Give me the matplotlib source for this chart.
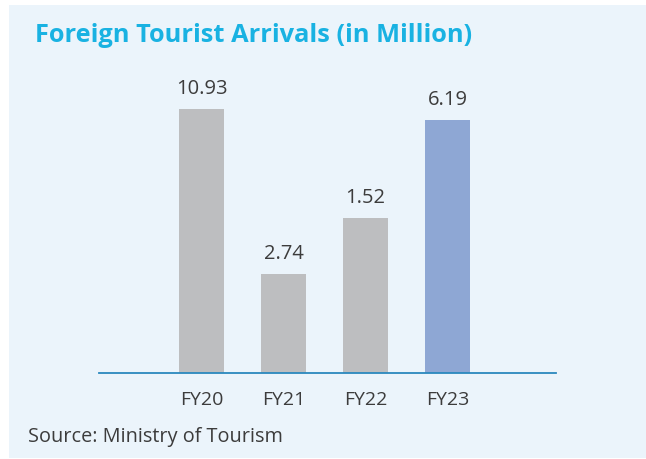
import matplotlib
matplotlib.use("Agg")
import matplotlib.pyplot as plt
from matplotlib.patches import Rectangle

categories = ["FY20", "FY21", "FY22", "FY23"]
value_labels = ["10.93", "2.74", "1.52", "6.19"]
# drawn bar heights (bars are not to scale in the reference)
bar_heights = [10.93, 4.10, 6.42, 10.47]
bar_colors = ["#BDBEC0", "#BDBEC0", "#BDBEC0", "#8EA7D4"]

title = "Foreign Tourist Arrivals (in Million)"
source = "Source: Ministry of Tourism"

W, H = 646, 459
fig = plt.figure(figsize=(W / 100, H / 100), dpi=100)
fig.patch.set_facecolor("white")
bg = Rectangle((9 / W, 1 - 458 / H), 1 - 9 / W, (458 - 5) / H,
               transform=fig.transFigure, facecolor="#EBF4FB", edgecolor="none", zorder=-10)
fig.patches.append(bg)

ax_left, ax_right = 99 / W, 556 / W
ax_bottom = 1 - 373 / H
ax_top = 1 - 60 / H
ax = fig.add_axes([ax_left, ax_bottom, ax_right - ax_left, ax_top - ax_bottom])
ax.set_facecolor("none")
ax.set_zorder(1)

x = list(range(len(categories)))
bars = ax.bar(x, bar_heights, width=0.55, color=bar_colors, zorder=2)
ax.set_xlim(-1.25, 4.32)
ax.set_ylim(0, 12.96)

for b, lab in zip(bars, value_labels):
    ax.annotate(lab, (b.get_x() + b.get_width() / 2, b.get_height()),
                xytext=(0, 7.5), textcoords="offset points", ha="center", va="bottom",
                fontsize=14.5, color="#3C3C3C", family="Open Sans")

for s in ["top", "right", "left"]:
    ax.spines[s].set_visible(False)
ax.spines["bottom"].set_color("#2A88BE")
ax.spines["bottom"].set_linewidth(1.3)
ax.set_yticks([])
ax.set_xticks(x)
ax.set_xticklabels(categories, fontsize=14, color="#3C3C3C", family="Open Sans")
ax.tick_params(axis="x", length=0, pad=13)

fig.text(35 / W, 1 - 35 / H, title, fontsize=18.3, fontweight="bold", color="#19B2E2",
         family="Open Sans", ha="left", va="center")
fig.text(28 / W, 1 - 437 / H, source, fontsize=14.3, color="#3C3C3C",
         family="Open Sans", ha="left", va="center")

fig.savefig("out.png", dpi=100, facecolor=fig.get_facecolor())
